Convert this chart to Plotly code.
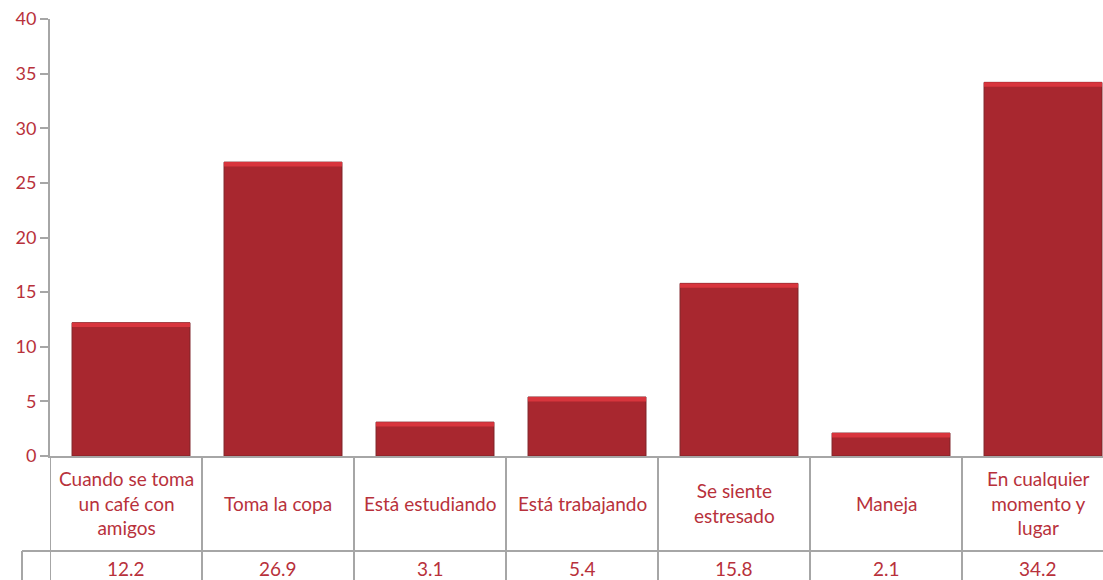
import plotly.graph_objects as go

categories = ["Cuando se toma<br>un café con<br>amigos", "Toma la copa", "Está estudiando",
              "Está trabajando", "Se siente<br>estresado", "Maneja",
              "En cualquier<br>momento y<br>lugar"]
values = [12.2, 26.9, 3.1, 5.4, 15.8, 2.1, 34.2]
value_labels = ["12.2", "26.9", "3.1", "5.4", "15.8", "2.1", "34.2"]

red_text = "#b8313b"
grid = "#a6a6a6"
font = "Lato"

x = list(range(len(categories)))
bar_w = 0.776
bar_off = -0.355  # bars sit slightly right of the table cell centres

fig = go.Figure()
fig.add_trace(go.Bar(
    x=x, y=values, width=bar_w, offset=bar_off,
    marker=dict(color="#a8272f", line=dict(color="#7e2227", width=1)),
    hoverinfo="y", showlegend=False,
))
# light strip on top of each bar (bevel look)
fig.add_trace(go.Bar(
    x=x, y=[0.4] * len(values), base=[v - 0.4 for v in values], width=bar_w, offset=bar_off,
    marker=dict(color="#d8353d", line=dict(width=0)),
    hoverinfo="skip", showlegend=False,
))

shapes = []
row1 = -95 / 437
for i in range(len(categories) + 1):
    shapes.append(dict(type="line", xref="x", yref="paper", x0=i - 0.5, x1=i - 0.5,
                       y0=0, y1=-0.35, line=dict(color=grid, width=2)))
shapes.append(dict(type="line", xref="paper", yref="paper", x0=-28 / 1053, x1=1.02,
                   y0=row1, y1=row1, line=dict(color=grid, width=2)))
shapes.append(dict(type="line", xref="paper", yref="paper", x0=-28 / 1053, x1=-28 / 1053,
                   y0=row1, y1=-0.35, line=dict(color=grid, width=2)))

annotations = []
for i, (c, v) in enumerate(zip(categories, value_labels)):
    annotations.append(dict(x=i, y=-47 / 437, xref="x", yref="paper", text=c, showarrow=False,
                            yanchor="middle", font=dict(color=red_text, size=19, family=font)))
    annotations.append(dict(x=i, y=-112 / 437, xref="x", yref="paper", text=v, showarrow=False,
                            yanchor="middle", font=dict(color=red_text, size=19, family=font)))

fig.update_layout(
    width=1103, height=580,
    margin=dict(l=50, r=0, t=19, b=124),
    paper_bgcolor="white", plot_bgcolor="white",
    barmode="overlay",
    font=dict(family=font, color=red_text, size=18),
    xaxis=dict(range=[-0.5, -0.5 + 1053 / 152], showticklabels=False, showgrid=False,
               zeroline=False, showline=True, linecolor=grid, linewidth=2, ticks=""),
    yaxis=dict(range=[0, 40], dtick=5, showgrid=False, zeroline=False, showline=True,
               linecolor=grid, linewidth=2, ticks="outside", ticklen=8, tickwidth=2,
               tickcolor=grid, tickfont=dict(color=red_text, size=18, family=font)),
    shapes=shapes,
    annotations=annotations,
)

# drop the default 8px page margin so the figure fills the window
fig.write_html("out.html", config={"displayModeBar": False},
               post_script="document.body.style.margin='0';")
